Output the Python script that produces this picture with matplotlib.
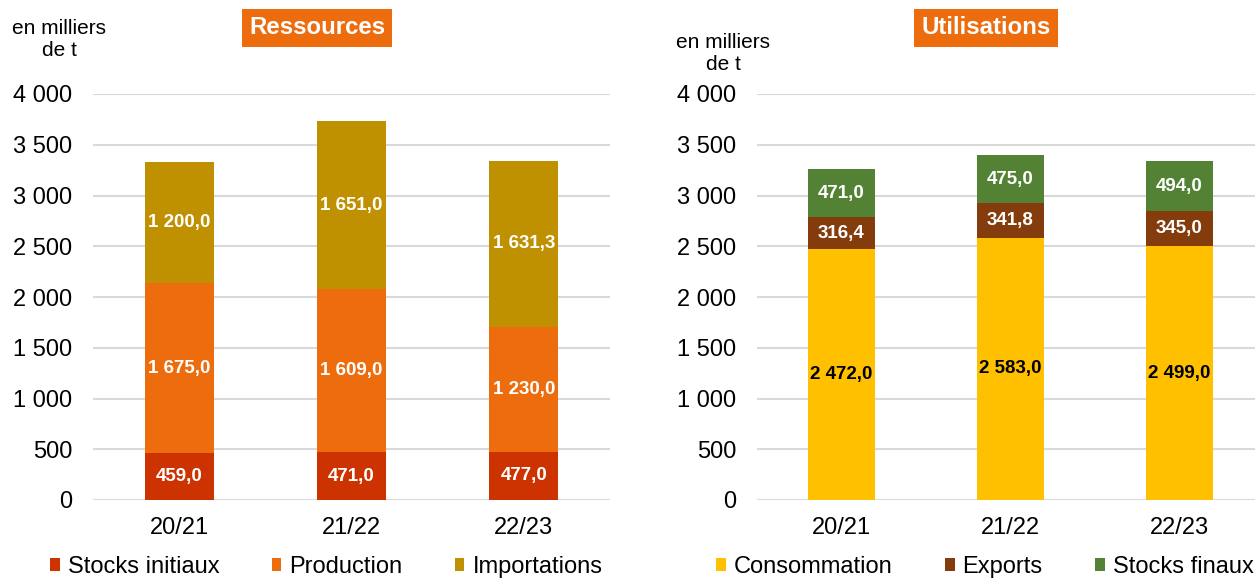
import matplotlib
matplotlib.use("Agg")
import matplotlib.pyplot as plt
import numpy as np

plt.rcParams['font.family'] = ['Liberation Sans', 'DejaVu Sans']

campagnes = ["20/21", "21/22", "22/23"]

stocks_initiaux = [459.0, 471.0, 477.0]
production = [1675.0, 1609.0, 1230.0]
importations = [1200.0, 1651.0, 1631.3]

consommation = [2472.0, 2583.0, 2499.0]
exports = [316.4, 341.8, 345.0]
stocks_finaux = [471.0, 475.0, 494.0]

yticks = [0, 500, 1000, 1500, 2000, 2500, 3000, 3500, 4000]

def fmt_num(v, dec=0):
    s = f"{v:,.{dec}f}"
    return s.replace(",", " ").replace(".", ",")

W, H = 1255, 578
fig = plt.figure(figsize=(W / 100, H / 100), dpi=100)

def make_axes(x0, x1):
    return fig.add_axes([x0 / W, (H - 500) / H, (x1 - x0) / W, 406 / H])

def draw(ax, series, names, colors, label_colors, leg_x, x0, x1):
    x = np.arange(len(campagnes))
    bottom = np.zeros(len(campagnes))
    for vals, name, col, lc in zip(series, names, colors, label_colors):
        vals = np.array(vals)
        ax.bar(x, vals, 0.4, bottom=bottom, color=col, label=name, zorder=3)
        for xi, b, v in zip(x, bottom, vals):
            ax.text(xi, b + v / 2, fmt_num(v, 1), ha='center', va='center',
                    color=lc, fontsize=13.5, fontweight='bold', zorder=4)
        bottom = bottom + vals
    ax.set_xlim(-0.5, 2.5)
    ax.set_ylim(0, 4000)
    ax.set_yticks(yticks)
    ax.set_yticklabels([fmt_num(v) for v in yticks], fontsize=17)
    ax.set_xticks(x)
    ax.set_xticklabels(campagnes, fontsize=17)
    ax.tick_params(axis='both', length=0)
    ax.tick_params(axis='y', pad=15)
    ax.tick_params(axis='x', pad=12)
    ax.grid(axis='y', color='#D9D9D9', linewidth=1.5, zorder=0)
    for s in ax.spines.values():
        s.set_visible(False)
    bx = (leg_x - x0) / (x1 - x0)
    ax.legend(loc='center left', bbox_to_anchor=(bx, (500 - 567) / 406), ncol=3,
              frameon=False, fontsize=17, handlelength=0.42, handleheight=0.42,
              handletextpad=0.34, columnspacing=2.2, borderpad=0, borderaxespad=0)
    return ax

ax1 = make_axes(93, 610)
draw(ax1, [stocks_initiaux, production, importations],
     ["Stocks initiaux", "Production", "Importations"],
     ["#CC3300", "#EC6C0E", "#BF9000"], ["white", "white", "white"], 50, 93, 610)

ax2 = make_axes(757, 1264)
draw(ax2, [consommation, exports, stocks_finaux],
     ["Consommation", "Exports", "Stocks finaux"],
     ["#FFC000", "#843C0C", "#548235"], ["black", "white", "white"], 716, 757, 1264)

# titles in orange boxes
fig.text(317 / W, 1 - 28 / H, "Ressources", ha='center', va='center', fontsize=17.3,
         fontweight='bold', color='white',
         bbox=dict(boxstyle='square,pad=0.3', facecolor='#EC6C0E', edgecolor='none'))
fig.text(986 / W, 1 - 28 / H, "Utilisations", ha='center', va='center', fontsize=17.3,
         fontweight='bold', color='white',
         bbox=dict(boxstyle='square,pad=0.3', facecolor='#EC6C0E', edgecolor='none'))

fig.text(59 / W, 1 - 40 / H, "en milliers\nde t", ha='center', va='center', fontsize=15,
         linespacing=1.2)
fig.text(723 / W, 1 - 54 / H, "en milliers\nde t", ha='center', va='center', fontsize=15,
         linespacing=1.2)

fig.savefig("out.png", dpi=100)
